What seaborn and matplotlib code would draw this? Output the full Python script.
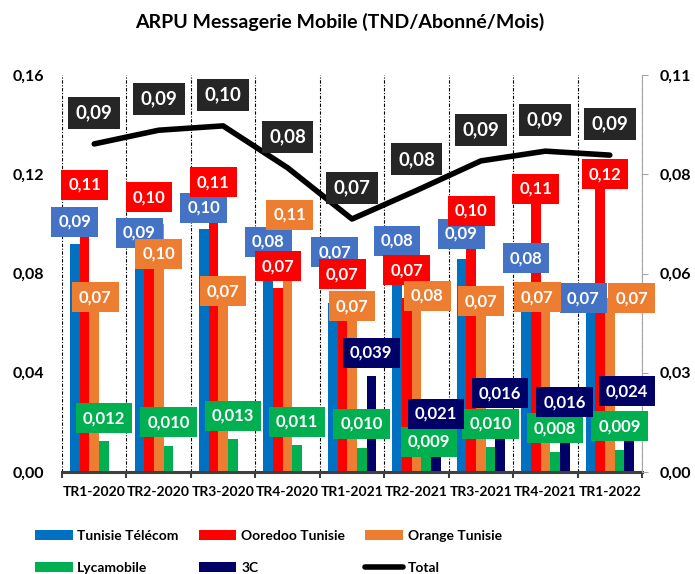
# ARPU messagerie mobile - barres par operateur + total sur axe secondaire
import numpy as np
import pandas as pd
import matplotlib
matplotlib.use("Agg")
import matplotlib.pyplot as plt
from matplotlib.patches import Patch
from matplotlib.lines import Line2D
import seaborn as sns

# donnees
quarters = ["TR1-2020", "TR2-2020", "TR3-2020", "TR4-2020", "TR1-2021",
            "TR2-2021", "TR3-2021", "TR4-2021", "TR1-2022"]
tunisie_telecom = [0.092, 0.090, 0.098, 0.080, 0.068, 0.080, 0.086, 0.076, 0.070]
ooredoo = [0.107, 0.099, 0.108, 0.074, 0.070, 0.070, 0.098, 0.109, 0.116]
orange = [0.072, 0.100, 0.070, 0.106, 0.068, 0.080, 0.070, 0.070, 0.070]
lycamobile = [0.0123, 0.0104, 0.0133, 0.011, 0.0098, 0.009, 0.0102, 0.008, 0.0088]
c3 = [np.nan, np.nan, np.nan, np.nan, 0.0387, 0.021, 0.016, 0.016, 0.024]
total = [0.0909, 0.0947, 0.0959, 0.0843, 0.0701, 0.078, 0.0862, 0.0889, 0.0878]

operators = ["Tunisie Télécom", "Ooredoo Tunisie", "Orange Tunisie", "Lycamobile", "3C"]
series = [tunisie_telecom, ooredoo, orange, lycamobile, c3]
decimals = [2, 2, 2, 3, 3]

# couleurs
bar_colors = ["#0070C0", "#FF0000", "#ED7D31", "#00B050", "#000066"]
box_colors = ["#4472C4", "#FF0000", "#ED7D31", "#00B050", "#000066"]

# decalage des etiquettes (pixels, vers le haut / vers la droite)
label_up = [
    [22, 16, 21, 32, 51, 33, 25, 25, 0],
    [22, 29, 22, 22, 24, 28, 18, 13, 10],
    [-4, -30, 7, -6, -3, -22, -3, 1, 0],
    [23, 24, 23, 23, 24, 8, 23, 24, 24],
    [0, 0, 0, 0, 23, 6, 39, 30, 21],
]
label_right = [
    [0, 0, 0, 0, 2, 0, 0, 0, -7],
    [0, 0, 0, 0, 0, 0, 0, 0, 5],
    [1, 0, 0, 2, 0, 11, 0, -8, 22],
    [0, 0, 0, 0, 0, 3, 0, 0, 0],
    [0, 0, 0, 0, 0, 0, 0, 0, -2],
]

df = pd.DataFrame({"quarter": quarters})
for name, vals in zip(operators, series):
    df[name] = vals
df_long = df.melt(id_vars="quarter", var_name="operator", value_name="arpu").dropna()

plt.rcParams["font.family"] = ["Lato", "DejaVu Sans"]
plt.rcParams["font.weight"] = "bold"

fig = plt.figure(figsize=(6.95, 5.74), dpi=100)
ax = fig.add_axes([62 / 695, 1 - 472 / 574, 580 / 695, 397 / 574])

sns.barplot(data=df_long, x="quarter", y="arpu", hue="operator", order=quarters,
            hue_order=operators, palette=dict(zip(operators, bar_colors)),
            saturation=1, width=0.75, errorbar=None, linewidth=0, legend=False, ax=ax)

ax.set_xlim(-0.5, len(quarters) - 0.5)
ax.set_ylim(0, 0.16)
ax.set_xlabel("")
ax.set_ylabel("")
yt = [0, 0.04, 0.08, 0.12, 0.16]
ax.set_yticks(yt)
ax.set_yticklabels([f"{v:.2f}".replace(".", ",") for v in yt])
ax.set_xticks(range(len(quarters)))
ax.set_xticklabels(quarters)
ax.set_xticks(np.arange(-0.5, len(quarters), 1), minor=True)
ax.grid(which="minor", axis="x", color="black", linestyle=(0, (3, 1.5, 1, 1.5)), linewidth=0.8)
ax.set_axisbelow(True)
ax.tick_params(axis="x", which="major", length=0, pad=10, labelsize=10)
ax.tick_params(axis="x", which="minor", length=4, width=1.5, color="#404040")
ax.tick_params(axis="y", length=0, pad=13, labelsize=11.5)
for s in ["top", "right", "left"]:
    ax.spines[s].set_visible(False)
ax.spines["bottom"].set_linewidth(2.2)
ax.spines["bottom"].set_color("#404040")

# total sur axe secondaire
ax2 = ax.twinx()
sns.lineplot(x=np.arange(len(quarters)), y=total, ax=ax2, color="black",
             linewidth=4, sort=False, solid_capstyle="round")
ax2.set_ylim(0, 0.11)
rt = [0, 0.0275, 0.055, 0.0825, 0.11]
ax2.set_yticks(rt)
ax2.set_yticklabels(["0,00", "0,03", "0,06", "0,08", "0,11"])
ax2.tick_params(axis="y", length=4, color="#A6A6A6", pad=9, labelsize=11.5)
for s in ["top", "left", "bottom"]:
    ax2.spines[s].set_visible(False)
ax2.spines["right"].set_color("#A6A6A6")

# etiquettes des barres
for k, vals in enumerate(series):
    for i, v in enumerate(vals):
        if np.isnan(v):
            continue
        txt = f"{v:.{decimals[k]}f}".replace(".", ",")
        ax2.annotate(txt, xy=(i + (k - 2) * 0.15, v), xycoords=ax.transData,
                     xytext=(label_right[k][i] * 0.72, label_up[k][i] * 0.72),
                     textcoords="offset points", ha="center", va="center",
                     color="white", fontsize=12, fontweight="bold",
                     bbox=dict(boxstyle="square,pad=0.42", fc=box_colors[k], ec="none"),
                     annotation_clip=False)

# etiquettes du total
for i, v in enumerate(total):
    ax2.annotate(f"{v:.2f}".replace(".", ","), xy=(i, v), xytext=(0, 31 * 0.72),
                 textcoords="offset points", ha="center", va="center",
                 color="white", fontsize=13.5, fontweight="bold",
                 bbox=dict(boxstyle="square,pad=0.4", fc="#262626", ec="none"),
                 annotation_clip=False)

fig.text(340 / 695, 1 - 22 / 574, "ARPU Messagerie Mobile (TND/Abonné/Mois)",
         ha="center", va="center", fontsize=14, fontweight="bold")

# legende
handles = [
    Patch(facecolor=bar_colors[0], label=operators[0]),
    Patch(facecolor=bar_colors[3], label=operators[3]),
    Patch(facecolor=bar_colors[1], label=operators[1]),
    Patch(facecolor=bar_colors[4], label=operators[4]),
    Patch(facecolor=bar_colors[2], label=operators[2]),
    Line2D([0], [0], color="black", linewidth=4, solid_capstyle="round", label="Total"),
]
fig.legend(handles=handles, ncol=3, loc="upper left", bbox_to_anchor=(35 / 695, 1 - 530 / 574),
           frameon=False, fontsize=10, handlelength=2.7, handleheight=0.7,
           handletextpad=0.35, columnspacing=1.45, labelspacing=1.45,
           borderpad=0, borderaxespad=0)

fig.savefig("out.png", dpi=100)
